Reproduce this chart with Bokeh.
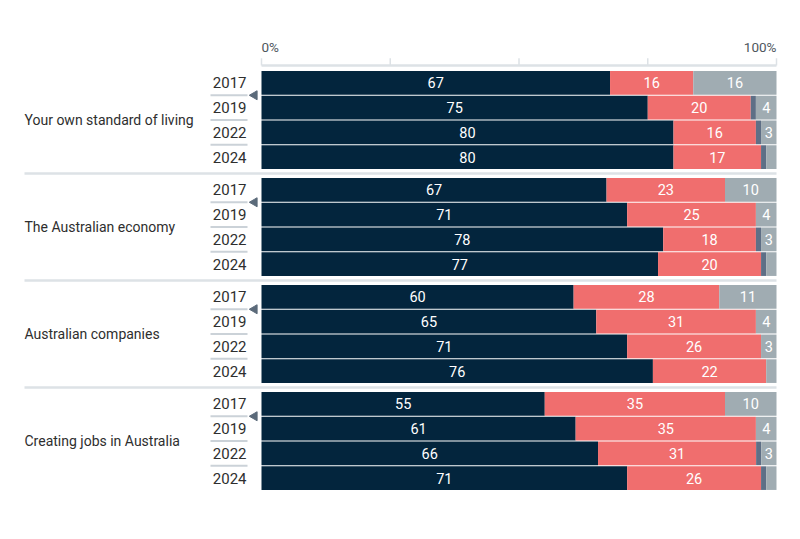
import numpy as np
from bokeh.plotting import figure
from bokeh.models import ColumnDataSource, Range1d
from bokeh.embed import file_html
from bokeh.resources import INLINE
from bokeh.core.properties import value

# ---------------- data ----------------
groups = ["Your own standard of living", "The Australian economy",
          "Australian companies", "Creating jobs in Australia"]
years = ["2017", "2019", "2022", "2024"]

optimistic = [67, 75, 80, 80,   67, 71, 78, 77,   60, 65, 71, 76,   55, 61, 66, 71]
pessimistic = [16, 20, 16, 17,  23, 25, 18, 20,   28, 31, 26, 22,   35, 35, 31, 26]
neither = [0, 1, 1, 1,          0, 0, 1, 1,       0, 0, 0, 0,       0, 0, 1, 1]
dont_know = [16, 4, 3, 2,       10, 4, 3, 2,      11, 4, 3, 2,      10, 4, 3, 2]

axis_ticks = [0, 25, 50, 75, 100]
axis_tick_labels = ["0%", "", "", "", "100%"]

# ---------------- style ----------------
colors = ["#03253D", "#F06E6E", "#5E6F86", "#A0ACB2"]
FONT = value("Roboto")
TXT = "#2E2E2E"
RULE = "#DDE2E6"
ROW_PX = 24.75
PX_PER_PCT = 5.15
PITCH = 107 / ROW_PX
W, H = 784, 523
X0 = 261          # canvas px of 0%
Y0 = 70           # canvas px of first bar top

x_range = Range1d(-X0 / PX_PER_PCT, (W - X0) / PX_PER_PCT)
y_range = Range1d((H - Y0) / ROW_PX, -Y0 / ROW_PX)   # y grows downward

p = figure(width=W, height=H, x_range=x_range, y_range=y_range,
           x_axis_type=None, y_axis_type=None, toolbar_location=None,
           output_backend="svg", min_border=0, outline_line_color=None)
p.background_fill_color = "white"
p.border_fill_color = "white"

series = [optimistic, pessimistic, neither, dont_know]
arr = np.array(series, dtype=float)
totals = arr.sum(axis=0)
shares = arr / totals * 100
rights = np.cumsum(shares, axis=0)
lefts = rights - shares

ng, ny = len(groups), len(years)
ys = np.array([g * PITCH + r + 0.5 for g in range(ng) for r in range(ny)])

for k, col in enumerate(colors):
    src = ColumnDataSource(dict(y=ys, left=lefts[k], right=rights[k]))
    p.hbar(y="y", left="left", right="right", height=0.955, source=src,
           fill_color=col, line_color=None)

# value labels inside segments
lx, ly, lt = [], [], []
for k in range(len(series)):
    for i, v in enumerate(series[k]):
        if v >= 3:
            lx.append((lefts[k][i] + rights[k][i]) / 2)
            ly.append(ys[i])
            lt.append(str(v))
p.text(x=lx, y=ly, text=lt, text_font=FONT, text_font_size="14.5px",
       text_color="white", text_align="center", text_baseline="middle")

# year labels
yx = -15 / PX_PER_PCT
p.text(x=[yx] * len(ys), y=list(ys), text=years * ng, text_font=FONT,
       text_font_size="15px", text_color=TXT, text_align="right",
       text_baseline="middle")

# group labels
gx = -(X0 - 24) / PX_PER_PCT
gy = [g * PITCH + ny / 2 for g in range(ng)]
p.text(x=[gx] * ng, y=gy, text=groups, text_font=FONT, text_font_size="14px",
       text_color=TXT, text_align="left", text_baseline="middle")

# separators under year labels
sx0, sx1 = -51 / PX_PER_PCT, -14 / PX_PER_PCT
sy = [g * PITCH + r for g in range(ng) for r in range(1, ny)]
p.segment(x0=[sx0] * len(sy), y0=sy, x1=[sx1] * len(sy), y1=sy,
          line_color="#CBD2D8", line_width=2)

# group separators
gsy = [g * PITCH - (PITCH - ny) / 2 for g in range(1, ng)]
p.segment(x0=[gx] * len(gsy), y0=gsy, x1=[100] * len(gsy), y1=gsy,
          line_color=RULE, line_width=2.5)

# small markers between first two years
p.scatter(x=[-7 / PX_PER_PCT] * ng, y=[g * PITCH + 1 for g in range(ng)],
          marker="triangle", size=9, angle=np.pi / 2, color="#5B6A7A")

# top axis
ay = -5 / ROW_PX
aty = -12.3 / ROW_PX
p.segment(x0=[0], y0=[ay], x1=[100], y1=[ay], line_color=RULE, line_width=2.5)
p.segment(x0=axis_ticks, y0=[ay] * len(axis_ticks), x1=axis_ticks,
          y1=[aty] * len(axis_ticks), line_color=RULE, line_width=1.5)
laby = -23.5 / ROW_PX
p.text(x=[axis_ticks[0]], y=[laby], text=[axis_tick_labels[0]], text_font=FONT,
       text_font_size="13.5px", text_color="#4F575E", text_align="left",
       text_baseline="middle")
p.text(x=[axis_ticks[-1]], y=[laby], text=[axis_tick_labels[-1]], text_font=FONT,
       text_font_size="13.5px", text_color="#4F575E", text_align="right",
       text_baseline="middle")

open("out.html", "w").write(file_html(p, INLINE))
